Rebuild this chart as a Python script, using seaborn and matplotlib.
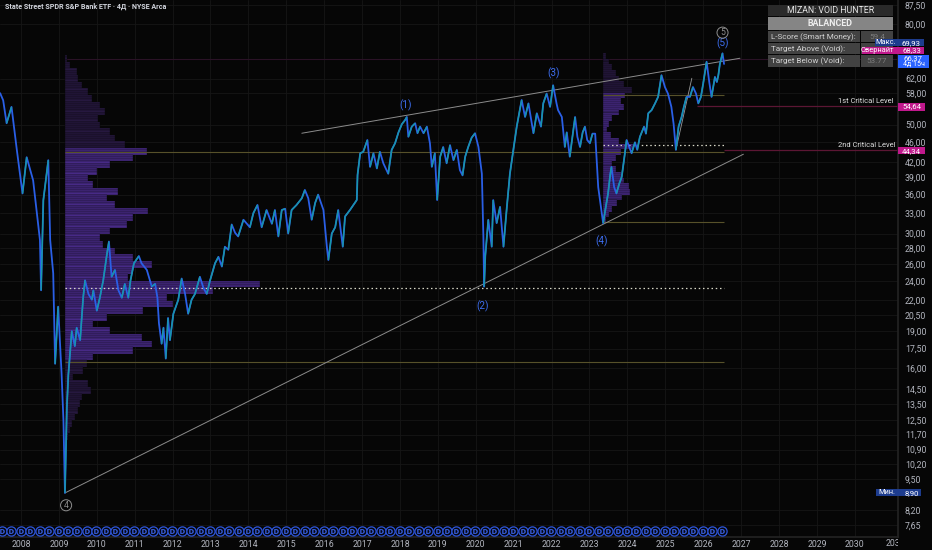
import matplotlib
matplotlib.use("Agg")
import matplotlib.pyplot as plt
import matplotlib.transforms as mtransforms
from matplotlib.patches import Rectangle
from matplotlib.collections import LineCollection
import numpy as np
import seaborn as sns

# ── Shared style settings ────────────────────────────────────────────────────
W, H = 932, 550
BG = "#060606"
GRID = "#161616"
AXIS_TXT = "#b2b5be"
LINE_BLUE = "#2a5fe6"
LINE_TEAL = "#169aa6"
WAVE_BLUE = "#3d6ef0"
VP_DARK = "#26183f"
VP_MAIN = "#472a86"
OLIVE = "#57512a"
MAROON = "#5c1634"
MAGENTA = "#c0188c"
NAVY = "#1d3c8e"
TAG_BLUE = "#2962ff"

# ── Data ────────────────────────────────────────────────────────────────────
years = [
    2007.45, 2007.53, 2007.62, 2007.75, 2007.89, 2008.04, 2008.15, 2008.32,
    2008.50, 2008.53, 2008.59, 2008.72, 2008.77, 2008.85, 2008.90, 2008.98,
    2009.07, 2009.12, 2009.16,
    2009.21, 2009.25, 2009.34, 2009.42, 2009.47, 2009.56, 2009.64, 2009.69,
    2009.78, 2009.87, 2009.91, 2010.00, 2010.08, 2010.17, 2010.26, 2010.32,
    2010.39, 2010.48, 2010.57, 2010.66, 2010.74, 2010.83, 2010.89, 2010.98,
    2011.11, 2011.18, 2011.32, 2011.45, 2011.54, 2011.60, 2011.64, 2011.71,
    2011.76, 2011.82, 2011.88, 2011.93,
    2012.02, 2012.15, 2012.24, 2012.33, 2012.41, 2012.50, 2012.59, 2012.72,
    2012.81, 2012.90, 2012.99, 2013.12, 2013.21, 2013.30, 2013.38, 2013.47,
    2013.56, 2013.65, 2013.73, 2013.87, 2014.04, 2014.13, 2014.24, 2014.35,
    2014.48, 2014.62, 2014.70, 2014.79, 2014.88, 2014.97, 2015.05, 2015.14,
    2015.27, 2015.41, 2015.49, 2015.58, 2015.67, 2015.76, 2015.84, 2015.98,
    2016.07, 2016.11, 2016.20, 2016.29, 2016.37, 2016.49, 2016.55, 2016.68,
    2016.77, 2016.86, 2016.88, 2016.95, 2017.03, 2017.14, 2017.21, 2017.30,
    2017.39, 2017.47, 2017.56, 2017.69, 2017.78, 2017.87, 2017.96, 2018.05,
    2018.13, 2018.18, 2018.22, 2018.31, 2018.40, 2018.46, 2018.53, 2018.62,
    2018.71, 2018.79, 2018.84, 2018.92, 2018.98, 2019.06, 2019.14, 2019.23,
    2019.32, 2019.41, 2019.50, 2019.58, 2019.65, 2019.72, 2019.80, 2019.89,
    2019.98, 2020.07, 2020.16, 2020.20, 2020.22, 2020.25, 2020.33, 2020.42,
    2020.46, 2020.55, 2020.64, 2020.73, 2020.82, 2020.90, 2020.99, 2021.08,
    2021.21, 2021.30, 2021.39, 2021.52, 2021.61, 2021.72, 2021.78, 2021.87,
    2021.96, 2022.04, 2022.13, 2022.17, 2022.27, 2022.35, 2022.40, 2022.48,
    2022.56, 2022.62, 2022.68, 2022.75, 2022.82, 2022.88, 2022.94, 2023.01,
    2023.08, 2023.15, 2023.23, 2023.36, 2023.43, 2023.49, 2023.55, 2023.58,
    2023.65, 2023.71, 2023.79, 2023.85, 2023.91, 2023.98, 2024.05, 2024.11,
    2024.20, 2024.26, 2024.33, 2024.44, 2024.49, 2024.55, 2024.64, 2024.73,
    2024.81, 2024.90, 2024.99, 2025.07, 2025.16, 2025.22, 2025.28, 2025.35,
    2025.43, 2025.49, 2025.56, 2025.65, 2025.73, 2025.81, 2025.87, 2025.94,
    2026.00, 2026.09, 2026.16, 2026.22, 2026.31, 2026.36, 2026.40, 2026.44,
    2026.51, 2026.55,
]
prices = [
    57.9, 56.0, 50.3, 54.3, 44.4, 36.2, 42.9, 38.5,
    29.1, 23.0, 35.1, 42.3, 29.1, 24.9, 16.3, 21.3,
    15.6, 12.5, 8.9,
    13.3, 15.5, 19.0, 17.7, 19.3, 18.2, 22.2, 24.1,
    22.6, 22.0, 23.0, 20.9, 22.2, 24.1, 27.0, 28.9,
    24.5, 25.3, 23.0, 22.2, 23.7, 22.2, 24.1, 26.1,
    27.0, 26.1, 25.3, 23.4, 23.7, 22.2, 19.7, 17.9,
    19.3, 16.7, 20.2, 18.2,
    20.6, 22.0, 24.3, 22.6, 20.6, 22.0, 22.6, 24.5,
    23.3, 22.6, 24.1, 26.1, 26.9, 25.7, 28.2, 27.8,
    31.3, 30.1, 29.6, 32.0, 30.9, 33.0, 34.3, 30.9,
    33.5, 31.4, 33.5, 29.6, 33.5, 33.7, 30.0, 33.5,
    34.3, 35.4, 36.8, 35.4, 32.0, 34.6, 36.0, 33.5,
    28.2, 26.5, 30.0, 30.9, 33.5, 28.2, 32.5, 33.5,
    34.3, 35.1, 39.5, 43.7, 44.0, 46.5, 41.0, 43.7,
    40.7, 44.0, 41.7, 39.7, 44.4, 45.8, 48.2, 50.1,
    51.0, 51.8, 47.2, 49.5, 50.3, 48.0, 49.5, 48.0,
    49.5, 45.8, 41.0, 43.7, 35.1, 43.0, 45.0, 41.7,
    45.4, 42.3, 44.4, 40.4, 39.4, 43.0, 45.0, 47.0,
    48.0, 45.0, 39.7, 29.6, 23.4, 27.0, 32.0, 28.2,
    35.1, 31.5, 34.0, 28.2, 34.0, 39.7, 44.4, 49.5,
    56.1, 51.8, 55.2, 48.0, 52.7, 49.5, 55.2, 57.8,
    54.3, 60.1, 55.2, 53.5, 51.8, 45.0, 48.2, 43.0,
    47.9, 51.8, 47.2, 45.0, 48.2, 49.5, 46.5, 45.8,
    47.9, 47.9, 37.3, 31.5, 34.0, 36.2, 39.7, 41.0,
    37.3, 36.2, 38.0, 39.1, 42.3, 46.5, 45.0, 43.7,
    46.0, 44.4, 47.2, 49.5, 47.9, 52.7, 53.5, 55.2,
    56.9, 63.0, 59.6, 57.8, 54.3, 50.1, 44.4, 49.5,
    51.8, 54.3, 56.9, 56.9, 59.6, 57.8, 55.2, 56.9,
    60.6, 67.1, 61.0, 56.9, 62.5, 61.0, 63.0, 66.4,
    69.8, 66.4,
]

# volume profile 2009 → now (top bin first)
vp1_range = (69.2, 11.4)
vp1_start = 2009.16
vp1_volume = [
    5, 15, 35, 40, 50, 70, 80, 105, 120, 100, 105, 135, 150, 180, 245, 205,
    135, 95, 70, 85, 160, 125, 150, 250, 205, 185, 135, 105, 115, 150, 205,
    260, 205, 190, 585, 445, 305, 325, 235, 125, 85, 135, 230, 260, 205, 85,
    65, 53, 25, 70, 77, 50, 45, 40, 30, 20, 15, 10,
]
vp1_value_area = (14, 45)

# volume profile 2023 → now
vp2_range = (69.9, 31.5)
vp2_start = 2023.36
vp2_volume = [
    8, 18, 28, 38, 48, 63, 88, 68, 53, 63, 48, 28, 18, 13, 23, 48, 90, 53,
    38, 28, 38, 53, 63, 78, 83, 58, 43, 28, 18, 8,
]
vp2_value_area = (7, 29)

profile_end = 2026.55
vp1_levels = {"vah": 44.0, "poc": 23.3, "val": 16.4}
vp2_levels = {"vah": 57.3, "poc": 45.4, "val": 31.6}
crit_1st, crit_1st_start = 54.64, 2025.84
crit_2nd = 44.34
top_line = 68.1

upper_channel = ([2015.41, 2026.97], [48.0, 68.2])
lower_channel = ([2009.16, 2027.06], [8.9, 43.5])
spike_line = ([2025.28, 2025.70], [44.4, 62.1])

waves = [("(1)", 2018.16, 54.8), ("(2)", 2020.17, 21.35), ("(3)", 2022.05, 63.5),
         ("(4)", 2023.32, 28.9), ("(5)", 2026.51, 73.1)]
circled = [("5", 2026.51, 76.9), ("4", 2009.19, 8.40)]

dividend_years = [2007.49 + 0.25 * k for k in range(77)]

price_ticks = [7.65, 8.20, 9.50, 10.20, 10.90, 11.70, 12.50, 13.50, 14.50, 16.00,
               17.50, 19.00, 20.50, 22.00, 24.00, 26.00, 28.00, 30.00, 33.00,
               36.00, 39.00, 42.00, 46.00, 50.00, 58.00, 62.00, 80.00, 87.50]
year_ticks = list(range(2008, 2031))

table_rows = [("L-Score (Smart Money):", "59.4"),
              ("Target Above (Void):", ""),
              ("Target Below (Void):", "53.77")]


def fx(px):
    return px / W


def fy(py):
    return 1 - py / H


sns.set_theme(style="dark", rc={
    "axes.facecolor": BG, "figure.facecolor": BG, "axes.edgecolor": "#2a2a2a",
    "grid.color": GRID, "axes.grid": True, "grid.linewidth": 0.6,
})
plt.rcParams["font.family"] = ["Roboto", "DejaVu Sans"]

fig = plt.figure(figsize=(W / 100, H / 100), dpi=100)
ax = fig.add_axes([0, 13 / H, 898 / W, 537 / H])
ax.set_yscale("log")
ax.set_xlim(2007.446, 2031.14)
ax.set_ylim(7.24, 89.6)


# ── volume profiles (each bin drawn as three thin rows) ─────────────────────
def draw_profile(vols, prange, start, length, va):
    edges = np.geomspace(prange[0], prange[1], 3 * len(vols) + 1)
    scale = length / max(vols)
    for i, v in enumerate(vols):
        col = VP_MAIN if va[0] <= i <= va[1] else VP_DARK
        for k in range(3):
            hi, lo = edges[3 * i + k], edges[3 * i + k + 1]
            ax.barh(lo, v * scale, height=hi - lo, left=start, align="edge",
                    color=col, edgecolor=BG, linewidth=0.25, zorder=2)


draw_profile(vp1_volume, vp1_range, vp1_start, 5.15, vp1_value_area)
draw_profile(vp2_volume, vp2_range, vp2_start, 0.78, vp2_value_area)

# ── horizontal levels ────────────────────────────────────────────────────────
for start, lv in ((vp1_start, vp1_levels), (vp2_start, vp2_levels)):
    ax.hlines([lv["vah"], lv["val"]], start, profile_end, color=OLIVE, lw=0.8, zorder=2.5)
    ax.hlines(lv["poc"], start, profile_end, color="#d8d8c8", lw=0.9,
              linestyles=(0, (1.2, 2.2)), zorder=2.6)
ax.hlines(top_line, vp1_start, 2031.14, color="#2a1226", lw=0.8, zorder=1.5)
ax.hlines(crit_1st, crit_1st_start, 2031.14, color=MAROON, lw=0.9, zorder=2.5)
ax.hlines(crit_2nd, profile_end, 2031.14, color=MAROON, lw=0.9, zorder=2.5)

# ── trend lines ──────────────────────────────────────────────────────────────
for xs, ys in (upper_channel, lower_channel):
    ax.plot(xs, ys, color="#8c8c8c", lw=0.7, zorder=3)
ax.plot(*spike_line, color="#9a9a9a", lw=0.6, zorder=3)

# ── price line ───────────────────────────────────────────────────────────────
sns.lineplot(x=years, y=prices, ax=ax, color=LINE_BLUE, linewidth=1.3,
             sort=False, estimator=None, zorder=4)
up = [[(years[i], prices[i]), (years[i + 1], prices[i + 1])]
      for i in range(len(years) - 1) if prices[i + 1] > prices[i]]
ax.add_collection(LineCollection(up, colors=LINE_TEAL, linewidths=1.0, zorder=4.5))

# ── wave labels ──────────────────────────────────────────────────────────────
for s, x, y in waves:
    ax.text(x, y, s, color=WAVE_BLUE, fontsize=7.2, ha="center", va="center", zorder=6)
for s, x, y in circled:
    ax.text(x, y, s, color="#8e8e8e", fontsize=6.2, ha="center", va="center", zorder=6,
            bbox=dict(boxstyle="circle,pad=0.12", fc="none", ec="#8e8e8e", lw=0.7))

# ── dividend markers ─────────────────────────────────────────────────────────
trans = ax.get_xaxis_transform()
ax.scatter(dividend_years, [0.0112] * len(dividend_years), transform=trans, s=44,
           facecolors="#05060f", edgecolors="#2d55d8", linewidths=0.9, zorder=6, clip_on=False)
ax.scatter(dividend_years, [0.0112] * len(dividend_years), transform=trans, s=12,
           marker=r"$\mathbf{D}$", color="#3a63e6", linewidths=0, zorder=7, clip_on=False)

# ── axes styling ─────────────────────────────────────────────────────────────
ax.yaxis.tick_right()
ax.set_yticks(price_ticks)
ax.set_yticklabels([f"{v:.2f}".replace(".", ",") for v in price_ticks])
ax.yaxis.set_minor_locator(matplotlib.ticker.NullLocator())
ax.set_xticks(year_ticks)
ax.set_xticklabels([str(y) for y in year_ticks])
ax.tick_params(axis="y", length=0, pad=5, labelsize=6.3, colors=AXIS_TXT)
ax.tick_params(axis="x", length=0, pad=2.5, labelsize=6.3, colors=AXIS_TXT)
for side in ("left", "top"):
    ax.spines[side].set_visible(False)
ax.spines["right"].set_color("#222222")
ax.spines["bottom"].set_color("#222222")
ax.set_xlabel("")
ax.set_ylabel("")

clip = mtransforms.Bbox([[0, 0], [898, H]])
t = fig.text(fx(896), fy(543), "2031", color=AXIS_TXT, fontsize=6.3, ha="center", va="center")
t.set_clip_box(clip)
t.set_clip_on(True)

# ── title ────────────────────────────────────────────────────────────────────
fig.text(fx(5), fy(7), "State Street SPDR S&P Bank ETF · 4Д · NYSE Arca",
         color="#d1d4dc", fontsize=5.1, fontweight="bold", ha="left", va="center")


# ── overlay table and price tags ─────────────────────────────────────────────
def box(x0, y0, x1, y1, fc, z=8, ec="none"):
    fig.add_artist(Rectangle((fx(x0), fy(y1)), (x1 - x0) / W, (y1 - y0) / H,
                             transform=fig.transFigure, facecolor=fc, edgecolor=ec,
                             lw=0.6, zorder=z))


def ftext(px, py, s, z=9, **kw):
    kw.setdefault("ha", "center")
    fig.text(fx(px), fy(py), s, va="center", zorder=z, **kw)


box(768, 5, 893, 15.7, "#2a2a2a")
ftext(830.5, 10.5, "MİZAN: VOID HUNTER", color="#e6e6e6", fontsize=6.3)
box(768, 16.7, 893, 30, "#858585")
ftext(830.5, 23.4, "BALANCED", color="#eeeeee", fontsize=6.4, fontweight="bold")
for i, (lab, val) in enumerate(table_rows):
    y0 = 30.8 + i * 12.2
    box(768, y0, 860.3, y0 + 11.4, "#424242")
    box(861, y0, 893, y0 + 11.4, "#424242")
    ftext(771, y0 + 5.9, lab, color="#d2d2d2", fontsize=5.9, ha="left")
    if val:
        ftext(877, y0 + 5.9, val, color="#7c7c7c", fontsize=5.9)


def price_y(p):
    return H - ax.transData.transform((2020, p))[1]


def tag(yc, h, x0, x1, fc, value, label=None, lx=None, z=10):
    box(x0, yc - h / 2, x1, yc + h / 2, fc, z=z)
    ftext(911.5, yc, value, z=z + 1, color="white", fontsize=5.6)
    if label:
        ftext(lx, yc, label, z=z + 1, color="white", fontsize=5.3)


tag(42.7, 6.8, 875, 924, NAVY, "69,93", "Макс.", 886)
tag(50.4, 7.2, 862, 924, MAGENTA, "68,33", "Овернайт", 877)
box(898, 55, 929, 68.4, TAG_BLUE, z=12)
ftext(913.5, 58.6, "66,37", z=13, color="white", fontsize=5.6)
ftext(913.5, 64.6, "4д 15ч", z=13, color="white", fontsize=5.1)
tag(price_y(crit_1st) + 1, 8, 898, 925, MAGENTA, "54,64")
tag(price_y(crit_2nd) + 0.5, 7.4, 898, 925, MAGENTA, "44,34")
tag(price_y(8.90), 7, 876, 921, NAVY, "8,90", "Мин.", 887)

ftext(893, 101.5, "1st Critical Level", color="#e0e0e0", fontsize=5.4, ha="right")
ftext(895, 146, "2nd Critical Level", color="#e0e0e0", fontsize=5.4, ha="right")

fig.savefig("out.png", dpi=100, facecolor=BG)
